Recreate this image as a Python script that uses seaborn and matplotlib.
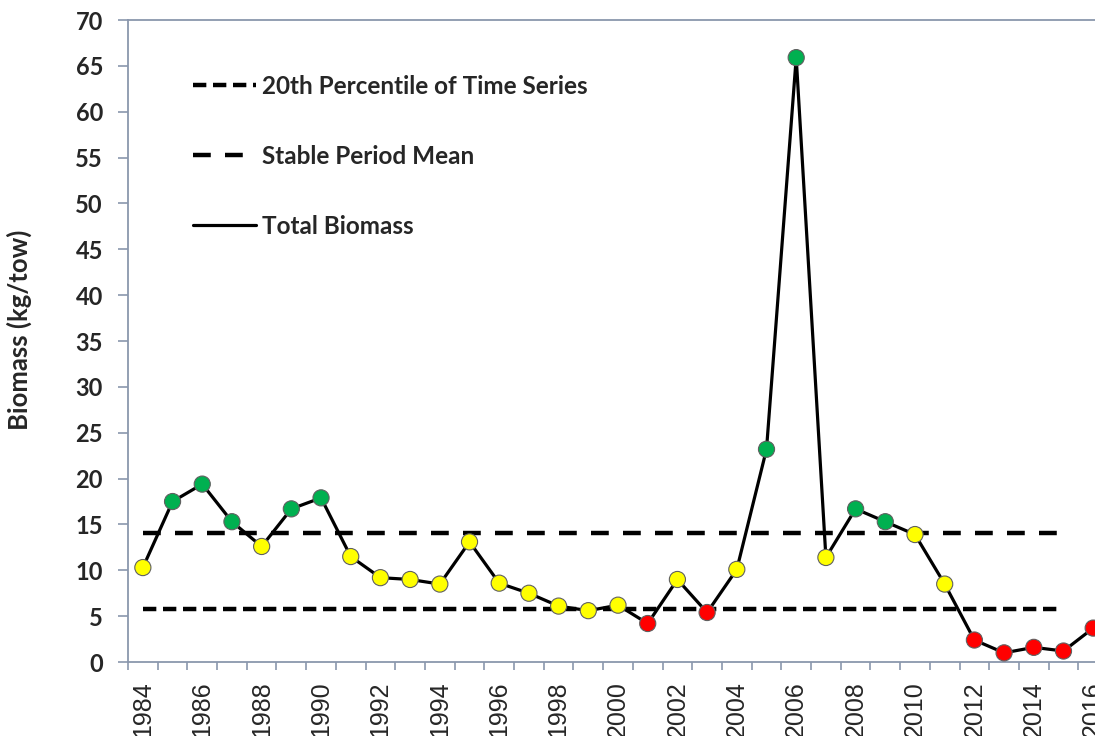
import numpy as np
import pandas as pd
import matplotlib
matplotlib.use("Agg")
import matplotlib.pyplot as plt
import seaborn as sns
from matplotlib.lines import Line2D

years = list(range(1984, 2017))
biomass = [10.3, 17.5, 19.4, 15.3, 12.6, 16.7, 17.9, 11.5, 9.2, 9.0, 8.5,
           13.1, 8.6, 7.5, 6.1, 5.6, 6.2, 4.2, 9.0, 5.4, 10.1, 23.2, 65.9,
           11.4, 16.7, 15.3, 13.9, 8.5, 2.4, 1.0, 1.6, 1.2, 3.7]
status = ["Y", "G", "G", "G", "Y", "G", "G", "Y", "Y", "Y", "Y",
          "Y", "Y", "Y", "Y", "Y", "Y", "R", "Y", "R", "Y", "G", "G",
          "Y", "G", "G", "Y", "Y", "R", "R", "R", "R", "R"]
status_colors = {"G": "#00B050", "Y": "#FFFF00", "R": "#FF0000"}

stable_mean = 14.05
pct20 = 5.8
ref_years = [1984, 2015]

df = pd.DataFrame({"year": years, "biomass": biomass, "status": status})

sns.set_style("white")
plt.rcParams["font.family"] = ["Lato", "DejaVu Sans"]

fig = plt.figure(figsize=(10.95, 7.36), dpi=100)
ax = fig.add_axes([0.1169, 0.1005, 0.895, 0.8723])

spine_col = "#8a97ad"

# reference lines
ax.plot(ref_years, [pct20, pct20], color="black", lw=3.2, dashes=(3, 1.5))
ax.plot(ref_years, [stable_mean, stable_mean], color="black", lw=3.2, dashes=(4, 3.2))

sns.lineplot(data=df, x="year", y="biomass", color="black", lw=2.3, ax=ax, zorder=3)
sns.scatterplot(data=df, x="year", y="biomass", hue="status", palette=status_colors,
                s=135, edgecolor="#606060", linewidth=0.8, ax=ax, zorder=4, legend=False)

ax.set_xlim(1983.5, 2016.5)
ax.set_ylim(0, 70)
ax.set_yticks(np.arange(0, 71, 5))
ax.set_xticks(years[::2])
ax.set_xticks(np.arange(1983.5, 2017, 1), minor=True)
ax.tick_params(axis="x", which="major", length=0, labelrotation=90, pad=14)
ax.tick_params(axis="x", which="minor", length=6, width=1.2, color=spine_col, direction="out", bottom=True)
ax.tick_params(axis="y", length=7, width=1.2, color=spine_col, direction="out", left=True, pad=11)
for lab in ax.get_xticklabels():
    lab.set_fontfamily("Liberation Sans")
    lab.set_fontsize(18)
    lab.set_verticalalignment("top")
for lab in ax.get_yticklabels():
    lab.set_fontsize(17)
    lab.set_fontweight("bold")

for side in ["left", "bottom", "top"]:
    ax.spines[side].set_color(spine_col)
    ax.spines[side].set_linewidth(1.3)
ax.spines["right"].set_visible(False)

ax.set_xlabel("")
ax.set_ylabel("Biomass (kg/tow)", fontsize=18.5, fontweight="bold")
ax.yaxis.set_label_coords(-0.098, 0.517)

handles = [Line2D([], [], color="black", lw=3.2, dashes=(3, 1.5)),
           Line2D([], [], color="black", lw=3.2, dashes=(4, 3.2)),
           Line2D([], [], color="black", lw=2.3)]
labels = ["20th Percentile of Time Series", "Stable Period Mean", "Total Biomass"]
ax.legend(handles, labels, loc="upper left", bbox_to_anchor=(0.066, 0.915),
          frameon=False, prop={"weight": "bold", "size": 17.5}, handlelength=2.6,
          handletextpad=0.25, labelspacing=1.94, borderaxespad=0, borderpad=0)

fig.savefig("out.png", dpi=100)
